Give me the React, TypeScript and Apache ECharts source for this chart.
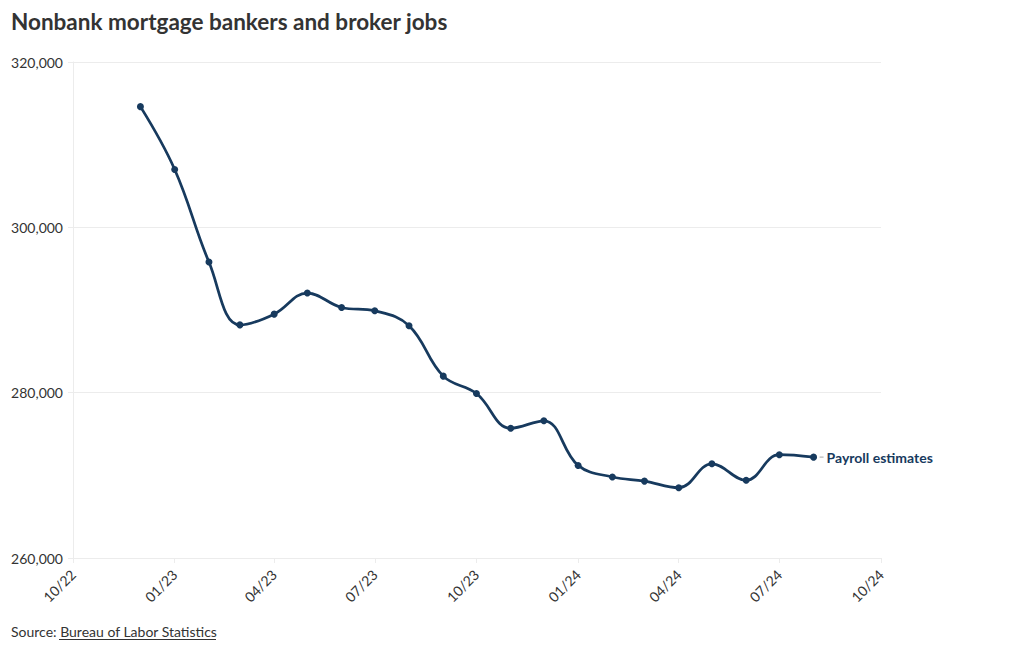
import React, { useEffect, useRef } from "react";
import * as echarts from "echarts";

const TITLE = "Nonbank mortgage bankers and broker jobs";
const SOURCE_PREFIX = "Source: ";
const SOURCE_NAME = "Bureau of Labor Statistics";
const SERIES_NAME = "Payroll estimates";

const months = [
  "2022-12-01", "2023-01-01", "2023-02-01", "2023-03-01", "2023-04-01", "2023-05-01",
  "2023-06-01", "2023-07-01", "2023-08-01", "2023-09-01", "2023-10-01", "2023-11-01",
  "2023-12-01", "2024-01-01", "2024-02-01", "2024-03-01", "2024-04-01", "2024-05-01",
  "2024-06-01", "2024-07-01", "2024-08-01",
];
const jobs = [
  314600, 307000, 295800, 288200, 289500, 292050,
  290300, 289900, 288100, 282000, 279900, 275700,
  276600, 271200, 269800, 269300, 268500, 271400,
  269400, 272500, 272200,
];
const xMin = "2022-10-01";
const xMax = "2024-10-01";
const yMin = 260000;
const yMax = 320000;
const yStep = 20000;

const LINE = "#173a5e";
const TEXT = "#333333";
const GRID = "#ececec";

export default function App() {
  const ref = useRef<HTMLDivElement>(null);
  useEffect(() => {
    if (!ref.current) return;
    const chart = echarts.init(ref.current, undefined, { renderer: "svg" });
    const fmtDate = (v: number) => {
      const d = new Date(v);
      const m = String(d.getMonth() + 1).padStart(2, "0");
      const y = String(d.getFullYear() % 100).padStart(2, "0");
      return `${m}/${y}`;
    };
    chart.setOption({
      animation: false,
      textStyle: { fontFamily: "Lato" },
      title: [
        {
          text: TITLE,
          left: 11,
          top: 10,
          padding: 0,
          textStyle: { fontFamily: "Lato", fontSize: 22.5, fontWeight: "bold", color: TEXT },
        },
        {
          text: `{p|${SOURCE_PREFIX}}{u|${SOURCE_NAME}}`,
          left: 11,
          top: 624,
          padding: 0,
          textStyle: {
            fontWeight: "normal",
            rich: {
              p: { fontFamily: "Lato", fontSize: 14, fontWeight: "normal", color: TEXT },
              u: { fontFamily: "Lato", fontSize: 14, fontWeight: "normal", color: TEXT },
            },
          },
        },
      ],
      graphic: [
        {
          type: "line",
          shape: { x1: 59, y1: 639.5, x2: 216, y2: 639.5 },
          style: { stroke: TEXT, lineWidth: 1 },
        },
      ],
      grid: {
        left: 73,
        right: 139,
        top: 62,
        bottom: 92,
        containLabel: false,
        outerBoundsMode: "none",
      },
      xAxis: {
        type: "time",
        min: xMin,
        max: xMax,
        minInterval: 85 * 86400000,
        maxInterval: 95 * 86400000,
        axisLine: { show: true, lineStyle: { color: GRID } },
        axisTick: { show: true, length: 5, lineStyle: { color: GRID } },
        splitLine: { show: false },
        axisLabel: {
          rotate: 45,
          fontFamily: "Lato",
          fontSize: 14,
          color: TEXT,
          margin: 14,
          hideOverlap: false,
          showMinLabel: true,
          showMaxLabel: true,
          formatter: (v: number) => fmtDate(v),
        },
      },
      yAxis: {
        type: "value",
        min: yMin,
        max: yMax,
        interval: yStep,
        axisLine: { show: true, lineStyle: { color: GRID } },
        axisTick: { show: true, length: 5, lineStyle: { color: GRID } },
        splitLine: { show: true, lineStyle: { color: GRID } },
        axisLabel: {
          fontFamily: "Lato",
          fontSize: 14,
          color: TEXT,
          margin: 10,
          formatter: (v: number) => v.toLocaleString("en-US"),
        },
      },
      series: [
        {
          name: SERIES_NAME,
          type: "line",
          data: months.map((m, i) => [m, jobs[i]]),
          smooth: 0.4,
          symbol: "circle",
          symbolSize: 7,
          showSymbol: true,
          lineStyle: { color: LINE, width: 2.75 },
          itemStyle: { color: LINE },
          endLabel: {
            show: true,
            distance: 6,
            formatter: `{d| }{t|${SERIES_NAME}}`,
            rich: {
              d: { width: 4, height: 1.5, fontSize: 2, backgroundColor: "#c4c4c4" },
              t: {
                color: LINE,
                fontSize: 14,
                fontWeight: "bold",
                fontFamily: "Lato",
                padding: [0, 0, 0, 3],
              },
            },
          },
        },
      ],
    });
    return () => chart.dispose();
  }, []);
  return (
    <div
      ref={ref}
      style={{ position: "absolute", left: 0, top: 0, width: 1020, height: 650, background: "#fff" }}
    />
  );
}
